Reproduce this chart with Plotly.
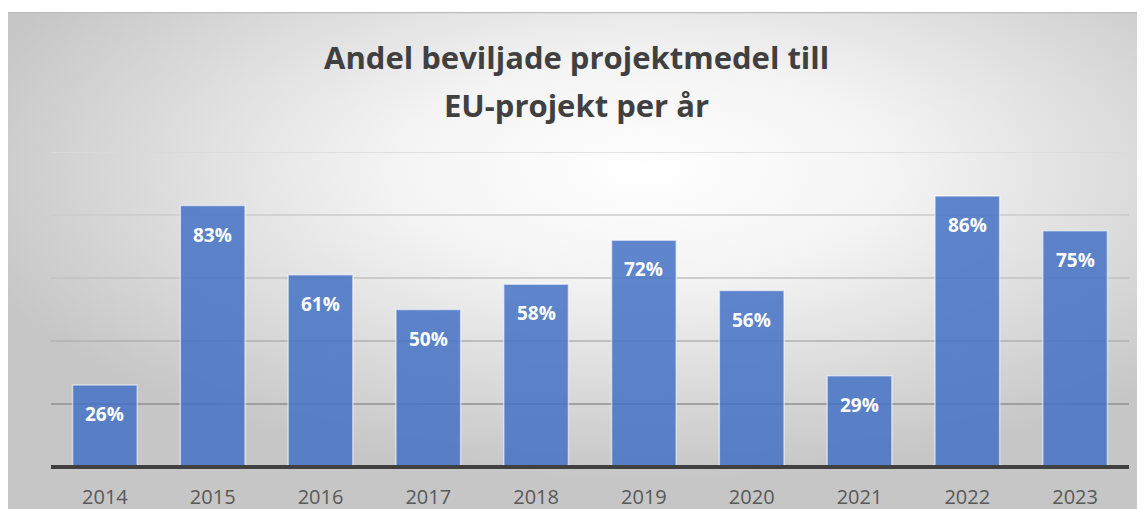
import base64

import plotly.graph_objects as go

# Andel beviljade projektmedel till EU-projekt, per år (%)
years = ["2014", "2015", "2016", "2017", "2018", "2019", "2020", "2021", "2022", "2023"]
shares = [26, 83, 61, 50, 58, 72, 56, 29, 86, 75]
grid_vals = [20, 40, 60, 80, 100]
grid_colors = ["#8f8f8f", "#b0b0b0", "#c2c2c2", "#cbcbcb", "#dadada"]

# the page puts the figure 8 px in from the top-left corner
OFF = 8
W, H = 1145 - OFF, 509 - OFF
L, R, T, B = 51 - OFF, 16, 152 - OFF, 42
pw, ph = W - L - R, H - T - B

# radial grey background (Excel-style chart area fill)
svg = f"""<svg xmlns='http://www.w3.org/2000/svg' width='{W}' height='{H}' preserveAspectRatio='none'>
<defs><radialGradient id='g' cx='0.56' cy='0.32' r='0.62'>
<stop offset='0' stop-color='#ffffff'/><stop offset='0.35' stop-color='#f4f4f4'/>
<stop offset='1' stop-color='#c6c6c6'/></radialGradient></defs>
<rect width='100%' height='100%' fill='url(#g)'/>
<line x1='0' y1='0.5' x2='100%' y2='0.5' stroke='#bdbdbd' stroke-width='1.5'/>
</svg>"""
bg_src = "data:image/svg+xml;base64," + base64.b64encode(svg.encode()).decode()
bg_x0, bg_y0 = 7 - OFF, 12 - OFF


def paper_y(page_y):
    # page pixel row -> paper y (0 = plot bottom, 1 = plot top)
    return (H - B - (page_y - OFF)) / ph


fig = go.Figure(
    go.Bar(
        x=years,
        y=shares,
        marker=dict(color="rgba(68,114,196,0.85)", line=dict(color="rgba(255,255,255,0.55)", width=1.5)),
        hovertemplate="%{x}: %{y}%<extra></extra>",
    )
)

for v, c in zip(grid_vals, grid_colors):
    fig.add_shape(type="line", xref="paper", yref="y", x0=0, x1=1, y0=v, y1=v,
                  line=dict(color=c, width=1.5), layer="below")
# baseline (paper-referenced so it is not clipped to the plot area)
fig.add_shape(type="line", xref="paper", yref="paper", x0=0, x1=1, y0=0, y1=0,
              line=dict(color="#404040", width=4), layer="above")

for i, v in enumerate(shares):
    fig.add_annotation(xref="x", yref="y", x=i, y=v, text=f"<b>{v}%</b>", showarrow=False,
                       yshift=-29, yanchor="middle",
                       font=dict(family="Open Sans", size=19, color="white"))

title_x = (576 - OFF - L) / pw
for line, row in [("Andel beviljade projektmedel till", 57), ("EU-projekt per år", 105)]:
    fig.add_annotation(xref="paper", yref="paper", x=title_x, y=paper_y(row),
                       xanchor="center", yanchor="middle", text=f"<b>{line}</b>",
                       showarrow=False, font=dict(family="Open Sans", size=31, color="#404040"))

fig.add_layout_image(
    source=bg_src, xref="paper", yref="paper",
    x=(bg_x0 - L) / pw, y=paper_y(12), sizex=(W - bg_x0) / pw, sizey=(H - bg_y0) / ph,
    xanchor="left", yanchor="top", sizing="stretch", layer="below",
)

fig.update_layout(
    width=W, height=H,
    margin=dict(l=L, r=R, t=T, b=B),
    paper_bgcolor="white", plot_bgcolor="rgba(0,0,0,0)",
    bargap=0.4, showlegend=False,
    font=dict(family="Open Sans", color="#595959"),
)
fig.update_xaxes(type="category", range=[-0.5, len(years) - 0.5], automargin=False,
                 showgrid=False, showline=False, ticks="outside", ticklen=12,
                 tickcolor="rgba(0,0,0,0)", tickfont=dict(size=20, color="#595959"))
fig.update_yaxes(range=[0, 100], automargin=False, showgrid=False, zeroline=False,
                 showticklabels=False)

fig.write_html("out.html")
